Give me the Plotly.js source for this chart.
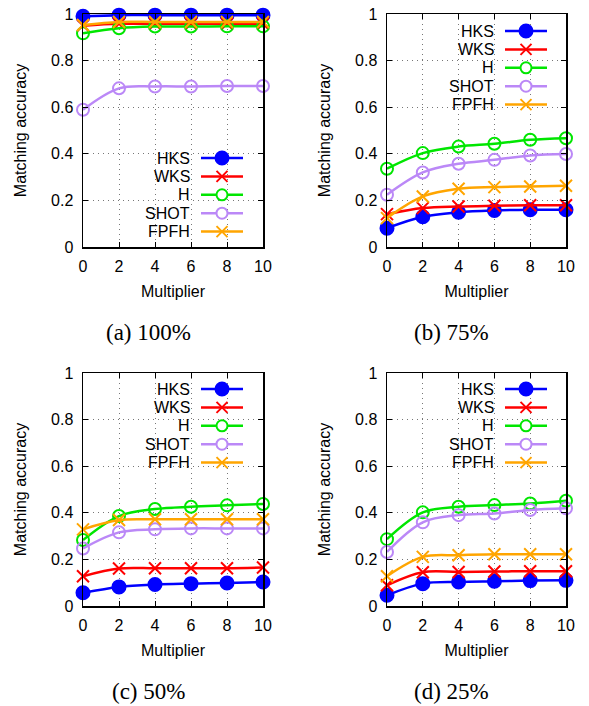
<!DOCTYPE html>
<html><head><meta charset="utf-8">
<script src="https://cdn.plot.ly/plotly-3.0.1.min.js"></script>
<style>html,body{margin:0;padding:0;background:#fff}#chart{width:589px;height:706px}</style>
</head><body><div id="chart"></div>
<script>
const multiplier = [0, 2, 4, 6, 8, 10];
const methods = ['HKS', 'WKS', 'H', 'SHOT', 'FPFH'];
const captions = ['(a) 100%', '(b) 75%', '(c) 50%', '(d) 25%'];

const hks_100  = [0.990, 0.995, 0.995, 0.995, 0.995, 0.995];
const wks_100  = [0.950, 0.958, 0.958, 0.958, 0.958, 0.958];
const h_100    = [0.917, 0.939, 0.946, 0.946, 0.947, 0.947];
const shot_100 = [0.589, 0.681, 0.689, 0.689, 0.691, 0.691];
const fpfh_100 = [0.953, 0.966, 0.966, 0.966, 0.966, 0.966];

const hks_75  = [0.081, 0.130, 0.149, 0.157, 0.160, 0.160];
const wks_75  = [0.141, 0.167, 0.174, 0.177, 0.179, 0.179];
const h_75    = [0.336, 0.403, 0.431, 0.443, 0.460, 0.467];
const shot_75 = [0.224, 0.320, 0.357, 0.374, 0.393, 0.399];
const fpfh_75 = [0.124, 0.217, 0.250, 0.257, 0.260, 0.263];

const hks_50  = [0.057, 0.082, 0.092, 0.096, 0.099, 0.103];
const wks_50  = [0.128, 0.161, 0.162, 0.162, 0.162, 0.165];
const h_50    = [0.283, 0.386, 0.416, 0.426, 0.432, 0.438];
const shot_50 = [0.247, 0.316, 0.329, 0.333, 0.333, 0.333];
const fpfh_50 = [0.329, 0.369, 0.372, 0.372, 0.372, 0.372];

const hks_25  = [0.046, 0.096, 0.103, 0.106, 0.109, 0.110];
const wks_25  = [0.089, 0.145, 0.146, 0.148, 0.149, 0.149];
const h_25    = [0.287, 0.402, 0.426, 0.433, 0.440, 0.452];
const shot_25 = [0.232, 0.359, 0.390, 0.397, 0.412, 0.419];
const fpfh_25 = [0.128, 0.211, 0.218, 0.222, 0.222, 0.222];

const panelSeries = [
  [hks_100, wks_100, h_100, shot_100, fpfh_100],
  [hks_75, wks_75, h_75, shot_75, fpfh_75],
  [hks_50, wks_50, h_50, shot_50, fpfh_50],
  [hks_25, wks_25, h_25, shot_25, fpfh_25]
];

const colors = ['#0000ff', '#ff0000', '#00e600', '#bb88f7', '#ffa500'];
const symbols = ['circle', 'x-thin-open', 'circle-open', 'circle-open', 'x-thin-open'];

const W = 589, H = 706;
const fx = x => x / W, fy = y => 1 - y / H;

const boxes = [
  {L: 83, R: 263, T: 14, B: 247, legTop: 158, capY: 332},
  {L: 387, R: 566, T: 14, B: 247, legTop: 31, capY: 332},
  {L: 83, R: 263, T: 373, B: 606, legTop: 389, capY: 691},
  {L: 387, R: 566, T: 373, B: 606, legTop: 389, capY: 691}
];

const FONT = 'Liberation Sans, Arial, sans-serif';
const traces = [];
const layout = {
  width: W, height: H, margin: {l: 0, r: 0, t: 0, b: 0},
  paper_bgcolor: '#fff', plot_bgcolor: '#fff', showlegend: false,
  font: {family: FONT, color: '#000', size: 16},
  shapes: [], annotations: []
};

boxes.forEach((b, p) => {
  const sfx = p === 0 ? '' : String(p + 1);
  const xa = 'xaxis' + sfx, ya = 'yaxis' + sfx;
  const common = {
    showline: true, mirror: 'ticks', linecolor: '#000', linewidth: 1.5,
    ticks: 'inside', ticklen: 5, tickwidth: 1, tickcolor: '#000',
    showgrid: true, gridcolor: '#777', griddash: '1px,4px', gridwidth: 1,
    zeroline: false, tickfont: {family: FONT, size: 16, color: '#000'}
  };
  layout[xa] = Object.assign({}, common, {
    domain: [fx(b.L), fx(b.R)], range: [0, 10], tickvals: multiplier, anchor: 'y' + sfx,
    ticklabelstandoff: 4,
    title: {text: 'Multiplier', font: {family: FONT, size: 16}, standoff: 12}
  });
  layout[ya] = Object.assign({}, common, {
    domain: [fy(b.B), fy(b.T)], range: [0, 1], dtick: 0.2, tick0: 0, anchor: 'x' + sfx,
    ticklabelstandoff: 5,
    title: {text: 'Matching accuracy', font: {family: FONT, size: 16}, standoff: 20}
  });
  panelSeries[p].forEach((ys, i) => {
    const filled = symbols[i] === 'circle';
    traces.push({
      x: multiplier, y: ys, xaxis: 'x' + sfx, yaxis: 'y' + sfx,
      type: 'scatter', mode: 'lines+markers', name: methods[i], cliponaxis: false,
      line: {color: colors[i], width: 2.5, shape: 'spline', smoothing: 1},
      marker: {symbol: symbols[i], size: filled ? 13 : 12, color: colors[i],
               line: {color: colors[i], width: 2}}
    });
  });
  methods.forEach((m, i) => {
    const y = b.legTop + i * 18.4;
    layout.annotations.push({
      xref: 'paper', yref: 'paper', x: fx(b.L + 109), y: fy(y), xanchor: 'right', yanchor: 'middle',
      text: m, showarrow: false, font: {family: FONT, size: 16, color: '#000'}
    });
    layout.shapes.push({type: 'line', xref: 'paper', yref: 'paper',
      x0: fx(b.L + 118), x1: fx(b.L + 160), y0: fy(y), y1: fy(y), line: {color: colors[i], width: 2.5}});
    const cx = b.L + 139;
    if (symbols[i].startsWith('circle')) {
      const r = symbols[i] === 'circle' ? 6.5 : 5.5;
      layout.shapes.push({type: 'circle', xref: 'paper', yref: 'paper',
        x0: fx(cx - r), x1: fx(cx + r), y0: fy(y - r), y1: fy(y + r),
        fillcolor: symbols[i] === 'circle' ? colors[i] : '#fff', line: {color: colors[i], width: 2}});
    } else {
      const r = 5.5;
      layout.shapes.push({type: 'line', xref: 'paper', yref: 'paper',
        x0: fx(cx - r), x1: fx(cx + r), y0: fy(y - r), y1: fy(y + r), line: {color: colors[i], width: 2}});
      layout.shapes.push({type: 'line', xref: 'paper', yref: 'paper',
        x0: fx(cx - r), x1: fx(cx + r), y0: fy(y + r), y1: fy(y - r), line: {color: colors[i], width: 2}});
    }
  });
  layout.annotations.push({
    xref: 'paper', yref: 'paper', x: fx((b.L + b.R) / 2 - 25), y: fy(b.capY), xanchor: 'center', yanchor: 'middle',
    text: captions[p], showarrow: false, font: {family: 'Liberation Serif, Times New Roman, serif', size: 23, color: '#000'}
  });
});

Plotly.newPlot('chart', traces, layout, {displayModeBar: false, staticPlot: true});
</script></body></html>
